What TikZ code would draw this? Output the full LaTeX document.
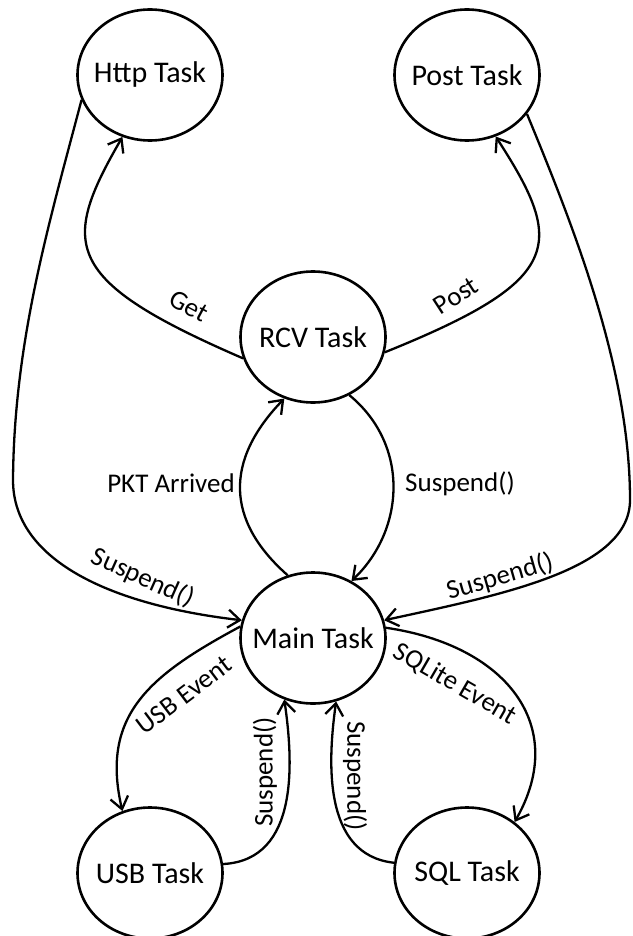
\documentclass[tikz,border=0pt]{standalone}
\usepackage{fontspec}
\setmainfont{Carlito}
\usetikzlibrary{shapes.geometric,arrows.meta}
\begin{document}
\begin{tikzpicture}[x=1pt,y=-1pt,
  task/.style={ellipse,draw,line width=2.6pt,minimum width=145pt,minimum height=131pt,
    inner xsep=-20pt,inner ysep=0pt,font=\fontsize{30}{32}\selectfont},
  flow/.style={line width=2.3pt,-{Straight Barb[length=12pt,width=18pt]}},
  lbl/.style={font=\fontsize{27}{29}\selectfont,inner sep=0pt}]
\useasboundingbox (0,0) rectangle (632,936);

% states
\node[task] (http) at (150,75)  {Http Task};
\node[task] (post) at (467,75)  {Post Task};
\node[task] (rcv)  at (313,337) {RCV Task};
\node[task] (main) at (313,638) {Main Task};
\node[task] (usb)  at (150,873) {USB Task};
\node[task] (sql)  at (467,873) {SQL Task};

% transitions
\draw[flow] (rcv.197) .. controls (62,280) and (60,245) .. (http.246);
\draw[flow] (rcv.-12) .. controls (564,280) and (566,245) .. (post.295);
\draw[flow] (http.200) .. controls (50,220) and (14,340) .. (13,480)
                       .. controls (13,560) and (110,605) .. (main.166);
\draw[flow] (post.327) .. controls (575,230) and (630,370) .. (630,500)
                       .. controls (630,570) and (500,595) .. (main.14);
\draw[flow] (main.112) .. controls (225,520) and (225,460) .. (rcv.245);
\draw[flow] (rcv.302) .. controls (410,445) and (405,530) .. (main.56);
\draw[flow] (main.171) .. controls (150,675) and (100,715) .. (usb.114);
\draw[flow] (usb.7) .. controls (300,860) and (293,760) .. (main.245);
\draw[flow] (sql.172) .. controls (322,855) and (328,760) .. (main.290);
\draw[flow] (main.8) .. controls (505,645) and (570,725) .. (sql.47);

% transition labels
\node[lbl,rotate=-28] (lget)   at (189,306) {Get};
\node[lbl,rotate=33]  (lpost)  at (456,296) {Post};
\node[lbl,rotate=-24] (lsusa)  at (143,578) {Suspend()};
\node[lbl,rotate=16]  (lsusb)  at (500,577) {Suspend()};
\node[lbl]            (lpkt)   at (171,483) {PKT Arrived};
\node[lbl]            (lsusc)  at (460,484) {Suspend()};
\node[lbl,rotate=37]  (lusb)   at (184,695) {USB Event};
\node[lbl,rotate=-30] (lsqlite) at (455,684) {SQLite Event};
\node[lbl,rotate=90]  (lsusd)  at (265,772) {Suspend()};
\node[lbl,rotate=-90] (lsuse)  at (355,776) {Suspend()};
\end{tikzpicture}
\end{document}
